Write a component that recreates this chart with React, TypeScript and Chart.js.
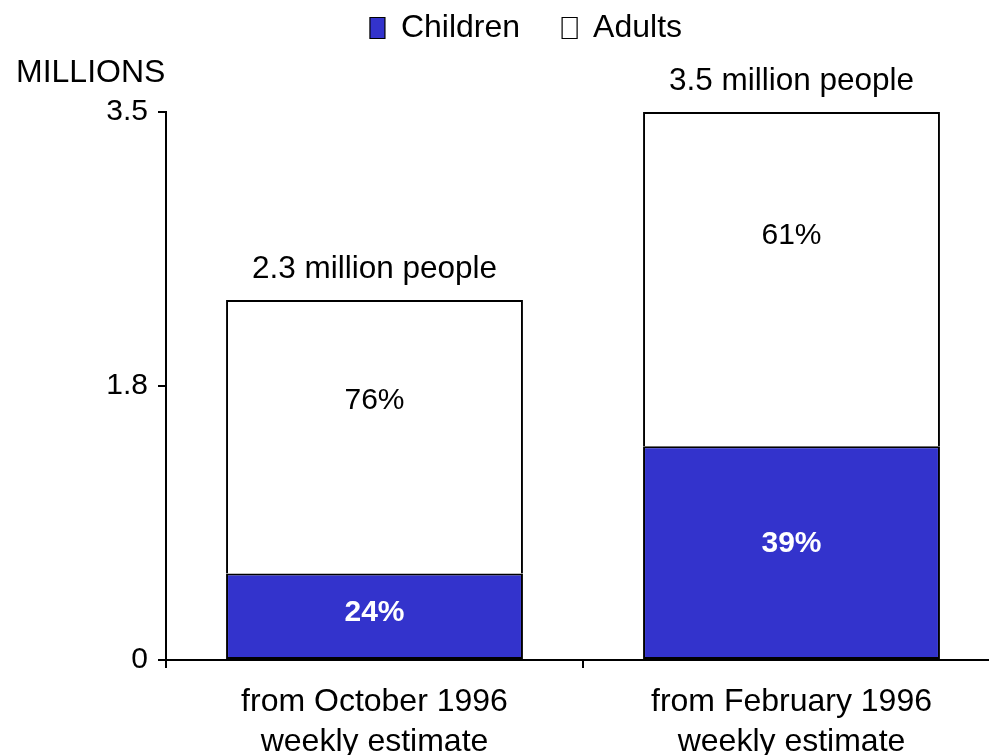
import React, { useEffect, useRef } from "react";
import { Chart, registerables, layouts } from "chart.js";

Chart.register(...registerables);

const categories = [
  ["from October 1996", "weekly estimate"],
  ["from February 1996", "weekly estimate"],
];
const totalMillions = [2.3, 3.5];
const childrenShare = [24, 39];
const adultsShare = [76, 61];
const childrenMillions = [0.552, 1.365];
const adultsMillions = [1.748, 2.135];
const yTicks = [0, 1.75, 3.5];
const yTickLabels = ["0", "1.8", "3.5"];
const unitLabel = "MILLIONS";

const FONT = "'Liberation Sans', Arial, Helvetica, sans-serif";
const BLUE = "#3333CC";

// Layout box between the legend and the plot that carries the unit label.
const unitBox = {
  id: "unitBox",
  beforeInit(chart: any) {
    const box: any = {
      position: "top",
      weight: 500,
      fullSize: true,
      options: {},
      left: 0,
      top: 0,
      right: 0,
      bottom: 0,
      width: 0,
      height: 0,
      isHorizontal: () => true,
      update(maxWidth: number) {
        box.width = maxWidth;
        box.height = 58;
      },
      draw() {
        const { ctx } = chart;
        ctx.save();
        ctx.font = `32px ${FONT}`;
        ctx.fillStyle = "#000000";
        ctx.textAlign = "left";
        ctx.textBaseline = "middle";
        ctx.fillText(unitLabel, 16, box.top + 19);
        ctx.restore();
      },
    };
    layouts.addBox(chart, box);
  },
};

const barLabels = {
  id: "barLabels",
  afterDatasetsDraw(chart: any) {
    const { ctx } = chart;
    const kids = chart.getDatasetMeta(0).data;
    const adults = chart.getDatasetMeta(1).data;
    ctx.save();
    ctx.textAlign = "center";
    ctx.textBaseline = "middle";
    kids.forEach((el: any, i: number) => {
      ctx.font = `bold 30px ${FONT}`;
      ctx.fillStyle = "#ffffff";
      ctx.fillText(`${childrenShare[i]}%`, el.x, el.y + 0.46 * (el.base - el.y));
    });
    adults.forEach((el: any, i: number) => {
      ctx.fillStyle = "#000000";
      ctx.font = `30px ${FONT}`;
      ctx.fillText(`${adultsShare[i]}%`, el.x, el.y + 0.37 * (el.base - el.y));
      ctx.font = `31.5px ${FONT}`;
      ctx.fillText(`${totalMillions[i]} million people`, el.x, el.y - 31);
    });
    ctx.restore();
  },
};

export default function App() {
  const ref = useRef<HTMLCanvasElement>(null);

  useEffect(() => {
    if (!ref.current) return;
    Chart.defaults.font.family = FONT;
    const chart = new Chart(ref.current, {
      type: "bar",
      data: {
        labels: categories,
        datasets: [
          {
            label: "Children",
            data: childrenMillions,
            backgroundColor: BLUE,
            borderColor: "#000000",
            borderWidth: 2,
            borderSkipped: false,
          },
          {
            label: "Adults",
            data: adultsMillions,
            backgroundColor: "#ffffff",
            borderColor: "#000000",
            borderWidth: 2,
            borderSkipped: "start",
          },
        ],
      },
      options: {
        responsive: false,
        animation: false,
        devicePixelRatio: 1,
        layout: { padding: { left: 52, right: 4, top: -30, bottom: 0 } },
        datasets: { bar: { barPercentage: 0.712, categoryPercentage: 1 } },
        plugins: {
          legend: {
            position: "top",
            labels: {
              color: "#000000",
              font: { size: 32 },
              boxWidth: 15,
              boxHeight: 21,
              padding: 42,
              generateLabels: (c: any) =>
                c.data.datasets.map((ds: any, i: number) => ({
                  text: ds.label,
                  fillStyle: ds.backgroundColor,
                  strokeStyle: "#000000",
                  lineWidth: 1.2,
                  fontColor: "#000000",
                  hidden: !c.isDatasetVisible(i),
                  datasetIndex: i,
                })),
            },
          },
          tooltip: { enabled: false },
        },
        scales: {
          x: {
            stacked: true,
            grid: {
              offset: true,
              drawOnChartArea: false,
              tickLength: 8,
              color: "#000000",
              lineWidth: 2,
            },
            border: { color: "#000000", width: 2 },
            ticks: {
              color: "#000000",
              font: { size: 32, lineHeight: 1.25 },
              padding: 14,
              maxRotation: 0,
            },
            afterFit: (s: any) => {
              s.height = 95;
            },
          },
          y: {
            stacked: true,
            min: 0,
            max: 3.5,
            grid: {
              drawOnChartArea: false,
              tickLength: 8,
              color: "#000000",
              lineWidth: 2,
            },
            border: { color: "#000000", width: 2 },
            afterBuildTicks: (s: any) => {
              s.ticks = yTicks.map((v) => ({ value: v }));
            },
            ticks: {
              color: "#000000",
              font: { size: 30 },
              padding: 10,
              callback: (v: any) => yTickLabels[yTicks.indexOf(Number(v))] ?? "",
            },
            afterFit: (s: any) => {
              s.width = 114;
            },
          },
        },
      },
      plugins: [unitBox, barLabels],
    });
    return () => chart.destroy();
  }, []);

  return (
    <div
      style={{
        position: "fixed",
        left: 0,
        top: 0,
        width: 989,
        height: 755,
        overflow: "hidden",
        background: "#ffffff",
      }}
    >
      <canvas ref={ref} width={1004} height={755} style={{ display: "block" }} />
    </div>
  );
}
